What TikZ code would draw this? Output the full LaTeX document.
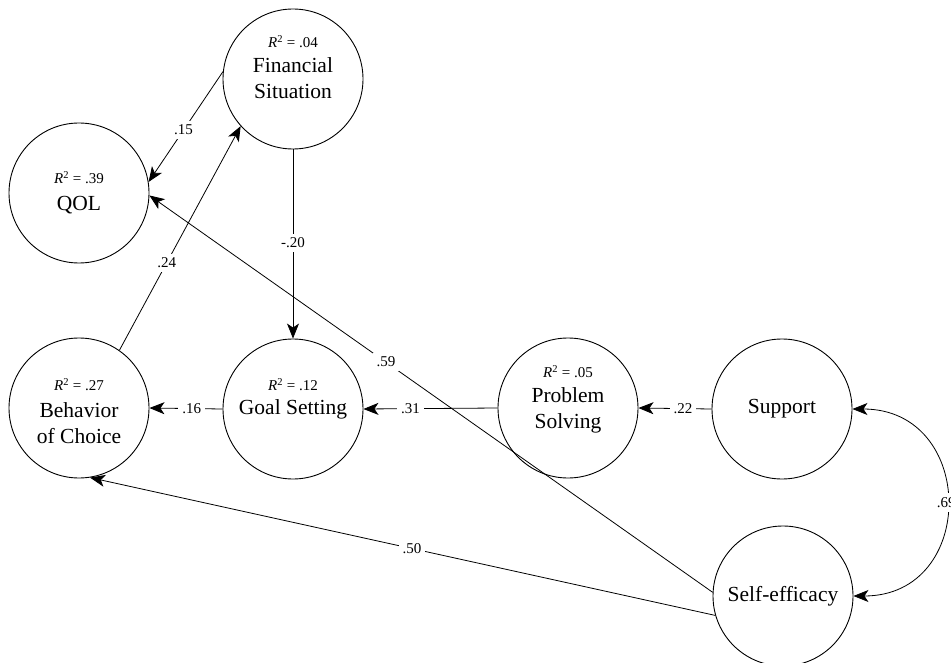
\documentclass[tikz,border=0pt]{standalone}
\usepackage{fontspec}
\setmainfont{Liberation Serif}
\usetikzlibrary{arrows.meta,calc}
\begin{document}
\begin{tikzpicture}[x=1pt,y=-1pt,
  var/.style={circle,draw,line width=0.9pt,minimum size=140pt,inner sep=0pt},
  vname/.style={font=\fontsize{21.5}{26}\selectfont,align=center,inner sep=0pt},
  rsq/.style={font=\fontsize{15}{18}\selectfont,inner sep=0pt},
  coef/.style={font=\fontsize{15}{18}\selectfont,fill=white,inner sep=4pt},
  tip/.tip={Stealth[length=15pt,width=12pt,inset=4pt]},
  arr/.style={line width=0.8pt,-tip},
  dblarr/.style={line width=0.8pt,tip-tip},
]
\useasboundingbox (0,0) rectangle (951,663);
% variables
\node[var] (fin) at (293,79) {};
\node[var] (qol) at (79,193) {};
\node[var] (boc) at (79,408) {};
\node[var] (gs) at (293,409) {};
\node[var] (ps) at (568,408) {};
\node[var] (sup) at (782,409) {};
\node[var] (se) at (783,596) {};
% texts
\node[rsq] (finR) at (293,42) {\textit{R}\textsuperscript{2} = .04};
\node[vname] (finT) at (293,78) {Financial\\Situation};
\node[rsq] (qolR) at (79,178) {\textit{R}\textsuperscript{2} = .39};
\node[vname] (qolT) at (79,205) {QOL};
\node[rsq] (bocR) at (79,385) {\textit{R}\textsuperscript{2} = .27};
\node[vname] (bocT) at (79,423.5) {Behavior\\of Choice};
\node[rsq] (gsR) at (293,385) {\textit{R}\textsuperscript{2} = .12};
\node[vname] (gsT) at (293,409) {Goal Setting};
\node[rsq] (psR) at (568,372) {\textit{R}\textsuperscript{2} = .05};
\node[vname] (psT) at (568,410) {Problem\\Solving};
\node[vname] (supT) at (782,409) {Support};
\node[vname] (seT) at (783,596) {Self-efficacy};
% paths
\draw[arr] (fin.174) -- node[coef,pos=0.53] {.15} (qol.9);
\draw[arr] (boc.55) -- node[coef,pos=0.39] {.24} (fin.222);
\draw[arr] (fin.south) -- node[coef,pos=0.495] {-.20} (gs.north);
\draw[arr] (se.177) -- node[coef,pos=0.58] {.59} (qol.-2);
\draw[arr] (se.196) -- node[coef,pos=0.485] {.50} (boc.-81);
\draw[arr] (gs.west) -- node[coef,pos=0.42] {.16} (boc.east);
\draw[arr] (ps.west) -- node[coef,pos=0.65] {.31} (gs.east);
\draw[arr] (sup.west) -- node[coef,pos=0.39] {.22} (ps.east);
\draw[dblarr] (sup.east) to[out=0,in=0,looseness=1.7] node[coef,pos=0.5] {.69} (se.east);
\end{tikzpicture}
\end{document}
